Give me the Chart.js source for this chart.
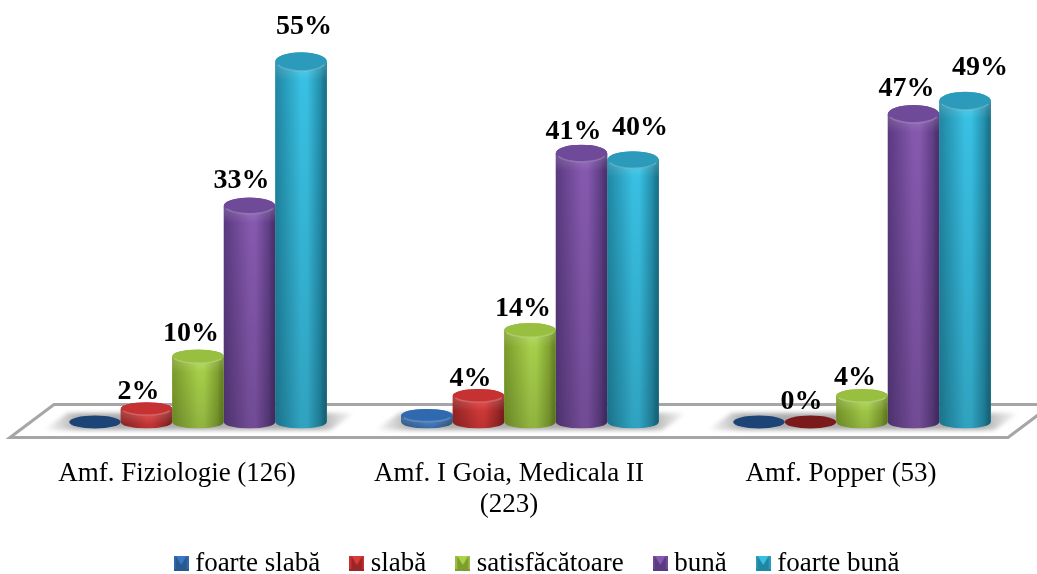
<!DOCTYPE html>
<html>
<head>
<meta charset="utf-8">
<title>Amfiteatre</title>
<script src="https://cdn.jsdelivr.net/npm/chart.js@4"></script>
<style>
  html, body { margin:0; padding:0; background:#fff; }
  canvas { display:block; }
</style>
</head>
<body>
<canvas id="chart" width="1037" height="574"></canvas>
<script>
const categories = ["Amf. Fiziologie (126)", ["Amf. I Goia, Medicala II", "(223)"], "Amf. Popper (53)"];
const seriesNames = ["foarte slabă", "slabă", "satisfăcătoare", "bună", "foarte bună"];
const foarteSlaba = [0, 1, 0];
const slaba = [2, 4, 0];
const satisfacatoare = [10, 14, 4];
const buna = [33, 41, 47];
const foarteBuna = [55, 40, 49];

// dark edge, bright middle, cap, flat disc (value 0)
const palette = [
  { dark:"#28598f", mid:"#3b78c4", cap:"#2f69b0", flat:"#1c4477" },
  { dark:"#9c2626", mid:"#dc3b3b", cap:"#c63232", flat:"#7a1a1a" },
  { dark:"#7d9e2c", mid:"#abd44c", cap:"#98bf3f", flat:"#7f9f30" },
  { dark:"#5a3a80", mid:"#8659b0", cap:"#6f4a98", flat:"#4e3171" },
  { dark:"#1f87a3", mid:"#39c1e4", cap:"#2c9aba", flat:"#1b7a96" }
];

// nudges of the value labels [dx, dy above the cap], per series then per group
const labelNudge = [
  null,
  [[-8,17],[-8,17],[-9,20]],
  [[-7,23],[-7,22],[-7,18]],
  [[-8,25],[-8,22],[-7,25]],
  [[3,35],[7,32],[15,33]]
];

function capRy(y, base) {
  return 6.5 + (base - y) / 359 * 3;
}

function drawCylinder(ctx, bar, c, value) {
  const w = bar.width, x0 = bar.x - w / 2, x1 = bar.x + w / 2;
  const top = bar.y, base = bar.base;
  const ryTop = capRy(top, base), ryBase = 6.5;

  if (value === 0) {
    ctx.fillStyle = c.flat;
    ctx.beginPath();
    ctx.ellipse(bar.x, base, w / 2, ryBase, 0, 0, Math.PI * 2);
    ctx.fill();
    return;
  }

  ctx.save();
  ctx.beginPath();
  ctx.moveTo(x0, top);
  ctx.lineTo(x0, base);
  ctx.ellipse(bar.x, base, w / 2, ryBase, 0, Math.PI, 0, true);
  ctx.lineTo(x1, top);
  ctx.ellipse(bar.x, top, w / 2, ryTop, 0, 0, Math.PI, true);
  ctx.closePath();
  ctx.clip();

  const side = ctx.createLinearGradient(x0, 0, x1, 0);
  side.addColorStop(0, c.dark);
  side.addColorStop(0.5, c.mid);
  side.addColorStop(0.62, c.mid);
  side.addColorStop(0.92, c.dark);
  side.addColorStop(1, c.dark);
  ctx.fillStyle = side;
  ctx.fillRect(x0, top - ryTop, w, base - top + ryTop + ryBase);

  // darker towards the floor
  const fall = ctx.createLinearGradient(0, top, 0, base + ryBase);
  fall.addColorStop(0, "rgba(0,0,0,0)");
  fall.addColorStop(1, "rgba(0,0,0,0.16)");
  ctx.fillStyle = fall;
  ctx.fillRect(x0, top - ryTop, w, base - top + ryTop + ryBase);

  // right edge falls off
  const edge = ctx.createLinearGradient(x1 - 6, 0, x1, 0);
  edge.addColorStop(0, "rgba(0,0,0,0)");
  edge.addColorStop(1, "rgba(0,0,0,0.18)");
  ctx.fillStyle = edge;
  ctx.fillRect(x1 - 6, top - ryTop, 6, base - top + ryTop + ryBase);

  // lit band right under the cap
  const bevel = ctx.createLinearGradient(0, top, 0, top + ryTop + 9);
  bevel.addColorStop(0, "rgba(255,255,255,0.18)");
  bevel.addColorStop(1, "rgba(255,255,255,0)");
  ctx.fillStyle = bevel;
  ctx.fillRect(x0, top, w, ryTop + 9);
  ctx.restore();

  ctx.fillStyle = c.cap;
  ctx.beginPath();
  ctx.ellipse(bar.x, top, w / 2, ryTop, 0, 0, Math.PI * 2);
  ctx.fill();

  ctx.strokeStyle = "rgba(255,255,255,0.22)";
  ctx.lineWidth = 1.5;
  ctx.beginPath();
  ctx.ellipse(bar.x, top, w / 2 - 1, ryTop - 0.5, 0, 0.35, Math.PI - 0.35);
  ctx.stroke();
}

const floorPlugin = {
  id: "floor",
  afterLayout(chart) {
    // legend sits a bit right of and below where the layout puts it
    chart.legend.left += 10;
    chart.legend.right += 10;
    chart.legend.top += 9;
    chart.legend.bottom += 9;
  },
  beforeDatasetsDraw(chart) {
    const { ctx, chartArea, scales } = chart;
    const yb = chartArea.bottom;
    ctx.save();
    ctx.fillStyle = "#fff";
    ctx.strokeStyle = "#a6a6a6";
    ctx.lineWidth = 3;
    ctx.beginPath();
    ctx.moveTo(chartArea.left - 22, yb + 15.5);
    ctx.lineTo(chartArea.left + 22, yb - 17.5);
    ctx.lineTo(chartArea.right + 24, yb - 17.5);
    ctx.lineTo(chartArea.right - 20, yb + 15.5);
    ctx.closePath();
    ctx.fill();
    ctx.stroke();

    categories.forEach((_, i) => {
      const cx = scales.x.getPixelForValue(i);
      const g = ctx.createLinearGradient(cx - 155, 0, cx + 157, 0);
      g.addColorStop(0, "rgba(170,170,170,0)");
      g.addColorStop(0.12, "rgba(172,172,172,1)");
      g.addColorStop(0.88, "rgba(172,172,172,1)");
      g.addColorStop(1, "rgba(170,170,170,0)");
      ctx.save();
      ctx.filter = "blur(2px)";
      ctx.fillStyle = g;
      ctx.beginPath();
      ctx.moveTo(cx - 155, yb + 8);
      ctx.lineTo(cx - 130, yb - 9);
      ctx.lineTo(cx + 157, yb - 9);
      ctx.lineTo(cx + 132, yb + 8);
      ctx.closePath();
      ctx.fill();
      ctx.restore();
    });
    ctx.restore();
  },
  afterDatasetsDraw(chart) {
    const { ctx, data } = chart;
    data.datasets.forEach((ds, s) => {
      chart.getDatasetMeta(s).data.forEach((bar, i) => {
        drawCylinder(ctx, bar, palette[s], ds.data[i]);
      });
    });
    ctx.save();
    ctx.fillStyle = "#000";
    ctx.font = "bold 28px 'Liberation Serif'";
    ctx.textAlign = "center";
    ctx.textBaseline = "middle";
    data.datasets.forEach((ds, s) => {
      if (!labelNudge[s]) return;
      chart.getDatasetMeta(s).data.forEach((bar, i) => {
        const [dx, dy] = labelNudge[s][i];
        ctx.fillText(ds.data[i] + "%", bar.x + dx, bar.y - dy);
      });
    });
    ctx.restore();
  }
};

function legendIcon(c) {
  const cv = document.createElement("canvas");
  cv.width = 15; cv.height = 15;
  const g = cv.getContext("2d");
  g.fillStyle = c.dark;
  g.fillRect(0, 0, 15, 15);
  g.fillStyle = c.mid;
  g.beginPath();
  g.moveTo(2, 0); g.lineTo(13, 0); g.lineTo(7.5, 9);
  g.closePath();
  g.fill();
  g.fillStyle = c.cap;
  g.fillRect(0, 0, 2, 13);
  g.fillRect(13, 0, 2, 13);
  return cv;
}
const icons = palette.map(legendIcon);

new Chart(document.getElementById("chart"), {
  type: "bar",
  plugins: [floorPlugin],
  data: {
    labels: categories,
    datasets: [foarteSlaba, slaba, satisfacatoare, buna, foarteBuna].map((vals, s) => ({
      label: seriesNames[s],
      data: vals,
      backgroundColor: palette[s].dark,
      borderWidth: 0,
      barPercentage: 1,
      categoryPercentage: 0.776
    }))
  },
  options: {
    responsive: false,
    animation: false,
    layout: { padding: { left: 32, right: 9, top: 29, bottom: -4 } },
    scales: {
      y: { display: false, min: 0, max: 60 },
      x: {
        grid: { display: false },
        border: { display: false },
        afterFit(scale) { scale.height = 83; },
        ticks: {
          color: "#000",
          padding: -67,
          mirror: true, // otherwise the second label line gets clipped
          labelOffset: -21,
          maxRotation: 0,
          autoSkip: false,
          font: { family: "'Liberation Serif'", size: 27, lineHeight: 1.15 }
        }
      }
    },
    plugins: {
      tooltip: { enabled: false },
      legend: {
        position: "bottom",
        labels: {
          color: "#000",
          font: { family: "'Liberation Serif'", size: 27 },
          usePointStyle: true,
          pointStyleWidth: 1,
          padding: 36,
          generateLabels(chart) {
            return Chart.defaults.plugins.legend.labels.generateLabels(chart).map((l, i) => {
              l.pointStyle = icons[i];
              return l;
            });
          }
        }
      }
    }
  }
});
</script>
</body>
</html>
